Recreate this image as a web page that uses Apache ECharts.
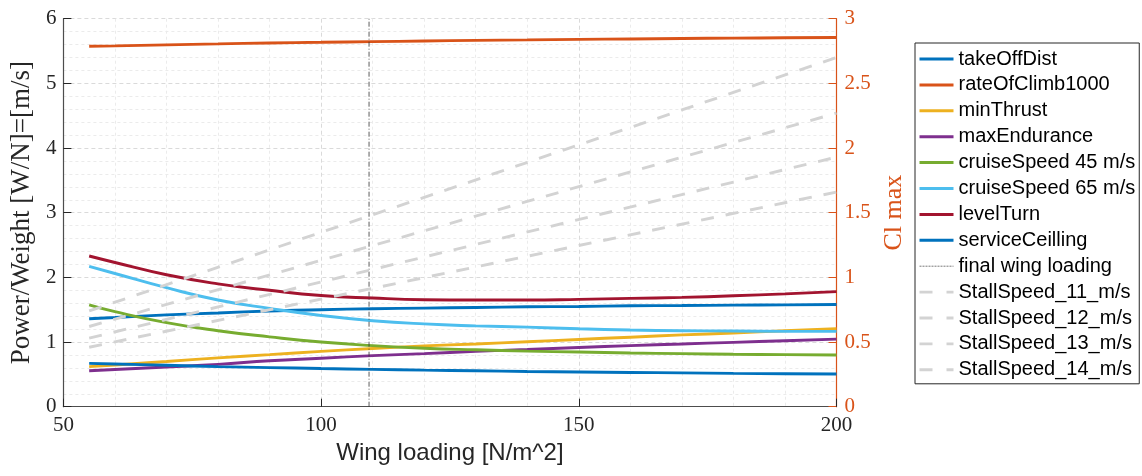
<!DOCTYPE html>
<html>
<head>
<meta charset="utf-8">
<script src="https://cdn.jsdelivr.net/npm/echarts@6/dist/echarts.min.js"></script>
<style>
html,body{margin:0;padding:0;background:#fff;}
#chart{width:1142px;height:476px;}
</style>
</head>
<body>
<div id="chart"></div>
<script>
// Wing loading sample points [N/m^2]
const wingLoading = [55, 60, 70, 80, 90, 100, 110, 120, 130, 140, 150, 160, 170, 180, 190, 200];

// Power/Weight constraint curves [W/N]
const takeOffDist      = [1.36, 1.38, 1.42, 1.45, 1.48, 1.50, 1.515, 1.525, 1.535, 1.545, 1.55, 1.56, 1.565, 1.57, 1.575, 1.58];
const rateOfClimb1000  = [5.575, 5.58, 5.595, 5.61, 5.625, 5.635, 5.645, 5.655, 5.665, 5.672, 5.68, 5.687, 5.694, 5.70, 5.705, 5.71];
const minThrust        = [0.62, 0.645, 0.70, 0.755, 0.805, 0.855, 0.90, 0.94, 0.97, 1.005, 1.04, 1.075, 1.11, 1.14, 1.175, 1.205];
const maxEndurance     = [0.555, 0.575, 0.615, 0.655, 0.71, 0.75, 0.79, 0.82, 0.855, 0.885, 0.915, 0.945, 0.97, 0.995, 1.02, 1.045];
const cruiseSpeed45    = [1.575, 1.47, 1.30, 1.175, 1.08, 1.00, 0.945, 0.905, 0.88, 0.86, 0.845, 0.83, 0.82, 0.81, 0.805, 0.80];
const cruiseSpeed65    = [2.17, 2.06, 1.84, 1.65, 1.52, 1.41, 1.33, 1.28, 1.25, 1.23, 1.205, 1.185, 1.175, 1.17, 1.165, 1.165];
const levelTurn        = [2.33, 2.23, 2.04, 1.90, 1.80, 1.72, 1.68, 1.655, 1.65, 1.65, 1.66, 1.675, 1.69, 1.715, 1.745, 1.78];
const serviceCeilling  = [0.67, 0.66, 0.64, 0.62, 0.605, 0.59, 0.577, 0.565, 0.556, 0.545, 0.537, 0.53, 0.523, 0.515, 0.51, 0.505];

// Final wing loading marker
const finalWingLoading = 109.3;
const finalLineY = [0, 6];

// Stall speed Cl max lines (right axis), endpoints
const stallX = [55, 200];
const stall11 = [0.74, 2.70];
const stall12 = [0.62, 2.27];
const stall13 = [0.53, 1.93];
const stall14 = [0.46, 1.66];

// Axis ticks
const xTicks = [50, 100, 150, 200];
const yLeftMax = 6;
const yRightMax = 3;

const pairs = (xs, ys) => xs.map((x, i) => [x, ys[i]]);

const mainColors = {
  takeOffDist: '#0072BD',
  rateOfClimb1000: '#D95319',
  minThrust: '#EDB120',
  maxEndurance: '#7E2F8E',
  cruise45: '#77AC30',
  cruise65: '#4DBEEE',
  levelTurn: '#A2142F',
  serviceCeilling: '#0072BD'
};
const stallColor = '#D3D3D3';
const stallDash = [13, 12];
const finalDash = [5, 2, 1, 2];

function curve(name, ys, color) {
  return {
    name: name, type: 'line', xAxisIndex: 0, yAxisIndex: 0,
    data: pairs(wingLoading, ys),
    smooth: 0.5,
    symbol: 'none', showSymbol: false,
    lineStyle: { color: color, width: 2.9 },
    itemStyle: { color: color },
    emphasis: { disabled: true }
  };
}
function stall(name, ys) {
  return {
    name: name, type: 'line', xAxisIndex: 0, yAxisIndex: 1,
    data: pairs(stallX, ys),
    symbol: 'none', showSymbol: false,
    lineStyle: { color: stallColor, width: 2.9, type: stallDash },
    itemStyle: { color: stallColor },
    emphasis: { disabled: true }
  };
}

const serif = 'Liberation Serif';
const sans = 'Liberation Sans';
const orange = '#D95319';
const axisCol = '#262626';

const legendNames = ['takeOffDist', 'rateOfClimb1000', 'minThrust', 'maxEndurance', 'cruiseSpeed 45 m/s',
           'cruiseSpeed 65 m/s', 'levelTurn', 'serviceCeilling', 'final wing loading',
           'StallSpeed_11_m/s', 'StallSpeed_12_m/s', 'StallSpeed_13_m/s', 'StallSpeed_14_m/s'];

const legendData = legendNames.map(n => {
  if (n.indexOf('StallSpeed') === 0) {
    return { name: n, lineStyle: { color: stallColor, width: 2.9, type: [13, 14] } };
  }
  if (n === 'final wing loading') {
    return { name: n, lineStyle: { color: '#555', width: 0.8, type: [2, 1] } };
  }
  return { name: n, lineStyle: { width: 3 } };
});

const option = {
  animation: false,
  backgroundColor: '#fff',
  grid: { left: 60.5, right: 305.5, top: 18.7, bottom: 69.3, containLabel: false },
  xAxis: {
    type: 'value', min: xTicks[0], max: xTicks[xTicks.length - 1], interval: 50,
    name: 'Wing loading [N/m^2]', nameLocation: 'middle', nameGap: 35,
    nameTextStyle: { fontFamily: sans, fontSize: 24, color: axisCol },
    axisLine: { show: true, onZero: false, lineStyle: { color: '#4d4d4d', width: 1.2 } },
    axisTick: { show: true, inside: true, length: 8, lineStyle: { color: axisCol } },
    axisLabel: { fontFamily: serif, fontSize: 21, color: axisCol, margin: 8 },
    splitLine: { show: true, lineStyle: { color: '#DADADA', width: 1, type: [4, 3] } },
    minorTick: { show: false, splitNumber: 5 },
    minorSplitLine: { show: true, lineStyle: { color: '#EBEBEB', width: 1, type: [3, 3] } }
  },
  yAxis: [
    {
      type: 'value', min: 0, max: yLeftMax, interval: 1, position: 'left',
      name: 'Power/Weight [W/N]=[m/s]', nameLocation: 'middle', nameGap: 25, nameRotate: 90,
      nameTextStyle: { fontFamily: serif, fontSize: 27, color: axisCol },
      axisLine: { show: true, onZero: false, lineStyle: { color: '#4d4d4d', width: 1.2 } },
      axisTick: { show: true, inside: true, length: 8, lineStyle: { color: axisCol } },
      axisLabel: { fontFamily: serif, fontSize: 21, color: axisCol, margin: 7 },
      splitLine: { show: true, lineStyle: { color: '#DADADA', width: 1, type: [4, 3] } },
      minorTick: { show: false, splitNumber: 5 },
      minorSplitLine: { show: true, lineStyle: { color: '#EBEBEB', width: 1, type: [3, 3] } }
    },
    {
      type: 'value', min: 0, max: yRightMax, interval: 0.5, position: 'right',
      name: 'Cl max', nameLocation: 'middle', nameGap: 36, nameRotate: 90,
      nameTextStyle: { fontFamily: serif, fontSize: 26, color: orange },
      axisLine: { show: true, onZero: false, lineStyle: { color: orange, width: 1.2 } },
      axisTick: { show: true, inside: true, length: 8, lineStyle: { color: orange } },
      axisLabel: { fontFamily: serif, fontSize: 21, color: orange, margin: 8 },
      splitLine: { show: false },
      minorSplitLine: { show: false }
    }
  ],
  legend: {
    orient: 'vertical', left: 915, top: 43,
    padding: [6, 4, 4, 3],
    itemWidth: 34, itemHeight: 2, itemGap: 5.9,
    itemStyle: { opacity: 0, borderWidth: 0 },
    backgroundColor: '#fff', borderColor: axisCol, borderWidth: 1,
    textStyle: { fontFamily: sans, fontSize: 20, color: '#000', lineHeight: 20 },
    data: legendData
  },
  series: [
    curve('takeOffDist', takeOffDist, mainColors.takeOffDist),
    curve('rateOfClimb1000', rateOfClimb1000, mainColors.rateOfClimb1000),
    curve('minThrust', minThrust, mainColors.minThrust),
    curve('maxEndurance', maxEndurance, mainColors.maxEndurance),
    curve('cruiseSpeed 45 m/s', cruiseSpeed45, mainColors.cruise45),
    curve('cruiseSpeed 65 m/s', cruiseSpeed65, mainColors.cruise65),
    curve('levelTurn', levelTurn, mainColors.levelTurn),
    curve('serviceCeilling', serviceCeilling, mainColors.serviceCeilling),
    {
      name: 'final wing loading', type: 'line', xAxisIndex: 0, yAxisIndex: 0,
      data: finalLineY.map(y => [finalWingLoading, y]),
      symbol: 'none', showSymbol: false,
      lineStyle: { color: '#333333', width: 0.8, type: finalDash },
      itemStyle: { color: '#333333' },
      emphasis: { disabled: true }
    },
    stall('StallSpeed_11_m/s', stall11),
    stall('StallSpeed_12_m/s', stall12),
    stall('StallSpeed_13_m/s', stall13),
    stall('StallSpeed_14_m/s', stall14)
  ]
};

const chart = echarts.init(document.getElementById('chart'), null, { renderer: 'canvas' });
chart.setOption(option);
</script>
</body>
</html>
